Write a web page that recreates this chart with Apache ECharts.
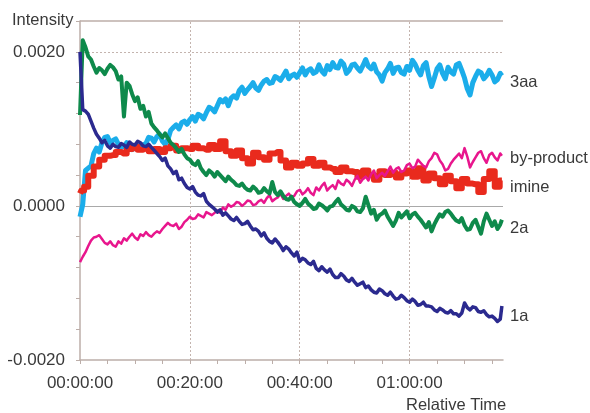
<!DOCTYPE html>
<html>
<head>
<meta charset="utf-8">
<script src="https://cdn.jsdelivr.net/npm/echarts@6/dist/echarts.min.js"></script>
<style>html,body{margin:0;padding:0;background:#fff}#c{width:590px;height:413px}</style>
</head>
<body>
<div id="c"></div>
<script>
// time in minutes (half-minute sampling)
const times = [
  0,0.5, 1,1.5, 2,2.5, 3,3.5, 4,4.5, 5,5.5, 6,6.5, 7,7.5, 8,8.5, 9,9.5,
  10,10.5, 11,11.5, 12,12.5, 13,13.5, 14,14.5, 15,15.5, 16,16.5, 17,17.5, 18,18.5, 19,19.5,
  20,20.5, 21,21.5, 22,22.5, 23,23.5, 24,24.5, 25,25.5, 26,26.5, 27,27.5, 28,28.5, 29,29.5,
  30,30.5, 31,31.5, 32,32.5, 33,33.5, 34,34.5, 35,35.5, 36,36.5, 37,37.5, 38,38.5, 39,39.5,
  40,40.5, 41,41.5, 42,42.5, 43,43.5, 44,44.5, 45,45.5, 46,46.5, 47,47.5, 48,48.5, 49,49.5,
  50,50.5, 51,51.5, 52,52.5, 53,53.5, 54,54.5, 55,55.5, 56,56.5, 57,57.5, 58,58.5, 59,59.5,
  60,60.5, 61,61.5, 62,62.5, 63,63.5, 64,64.5, 65,65.5, 66,66.5, 67,67.5, 68,68.5, 69,69.5,
  70,70.5, 71,71.5, 72,72.5, 73,73.5, 74,74.5, 75,75.5, 76,76.5, 76.8];

// imine is sampled per minute (step trace)
const timesImine = [0,0.5,1,2,3,4,5,6,7,8,
  9,10,11,12,13,14,15,16,17,18,
  19,20,21,22,23,24,25,26,27,28,
  29,30,31,32,33,34,35,36,37,38,
  39,40,41,42,43,44,45,46,47,48,
  49,50,51,52,53,54,55,56,57,58,
  59,60,61,62,63,64,65,66,67,68,
  69,70,71,72,73,74,75,76,76.8];

// intensities in units of 1e-4
const s3aa = [
  -1.4,0.2, 4.6,4.9, 5.2,6.8, 7.5,7.0, 8.2,8.9, 9.0,8.2, 8.5,8.7, 8.0,7.6, 7.7,8.2, 7.9,7.3,
  7.5,7.8, 7.4,7.9, 8.1,8.9, 8.8,8.3, 9.0,9.3, 8.4,8.0, 8.6,9.8, 10.2,10.5, 10.0,10.8, 11.0,10.6,
  11.2,11.6, 11.0,11.9, 11.7,11.3, 12.1,12.8, 12.6,12.2, 13.0,13.8, 13.5,13.9, 13.0,14.0, 14.3,14.0, 15.0,15.4,
  14.6,15.1, 15.5,16.0, 15.3,15.0, 15.7,16.2, 16.4,15.9, 16.0,16.8, 16.6,16.3, 16.9,17.5, 16.5,16.9, 17.1,16.7,
  17.3,17.9, 17.0,17.6, 17.8,17.2, 17.4,18.3, 17.5,17.1, 18.2,17.7, 18.6,18.0, 17.9,18.8, 18.4,17.2, 17.6,18.3,
  18.4,17.9, 17.5,18.2, 19.0,18.1, 17.8,18.4, 17.4,17.0, 16.2,17.3, 17.8,18.5, 17.2,17.9, 18.0,17.3, 17.1,18.1,
  17.6,18.9, 18.4,17.6, 17.0,18.2, 18.6,16.8, 15.5,16.6, 17.8,18.3, 17.2,16.5, 18.0,17.4, 17.1,18.3, 18.5,17.6,
  16.6,15.2, 14.4,16.0, 16.8,17.5, 17.3,16.5, 16.9,17.6, 17.0,16.1, 16.4,17.2, 16.9];

const sByproduct = [
  -7.3,-6.6, -6.0,-5.2, -4.5,-4.1, -4.0,-3.8, -4.3,-4.8, -5.0,-4.6, -5.1,-5.3, -4.6,-4.9, -4.2,-4.5, -4.0,-3.6,
  -4.1,-4.4, -3.7,-3.9, -3.4,-3.8, -4.0,-3.6, -3.3,-3.5, -3.0,-2.6, -2.2,-2.5, -2.6,-2.3, -3.0,-2.7, -2.1,-1.8,
  -1.4,-1.7, -1.6,-1.1, -1.3,-1.5, -0.8,-1.0, -1.2,-0.9, -0.6,-0.9, -0.2,-0.5, 0.2,-0.1, 0.1,0.5, 0.4,0.0,
  0.3,0.7, 0.6,0.1, 0.2,0.6, 0.8,0.4, 1.0,1.4, 0.6,0.9, 1.1,1.6, 0.9,1.3, 1.6,1.1, 1.3,1.9,
  2.1,1.5, 1.8,2.3, 1.7,1.4, 2.4,2.0, 2.6,3.0, 2.0,2.4, 2.7,2.2, 3.3,2.9, 2.7,3.4, 3.1,2.6,
  3.4,3.9, 3.0,3.5, 3.8,3.3, 4.1,4.6, 3.6,4.0, 4.3,3.9, 4.5,5.1, 4.3,4.8, 5.0,4.4, 4.6,5.3,
  5.5,4.9, 5.1,6.0, 5.6,5.2, 5.0,5.8, 6.2,6.9, 6.7,5.9, 5.4,4.6, 4.8,5.5, 6.0,6.4, 6.8,6.2,
  7.5,6.4, 5.0,5.7, 6.3,6.9, 7.1,6.2, 5.6,6.6, 6.9,6.3, 5.9,6.8, 6.5];

const sImine = [1.6,2.0,2.5,3.9,5.1,6.0,6.5,6.6,7.0,6.8,
  7.4,7.7,7.3,7.5,7.1,7.4,7.0,7.5,7.8,7.2,
  7.5,7.4,7.8,7.5,7.3,7.9,7.4,8.4,7.1,6.5,
  7.2,6.2,5.5,6.9,6.3,6.0,6.8,7.0,5.9,5.0,
  5.6,5.2,5.5,6.1,5.2,5.6,5.0,4.8,4.4,5.0,
  4.5,4.4,3.8,4.6,4.0,3.4,4.5,4.0,4.3,3.7,
  4.2,4.6,3.8,4.9,3.3,4.2,3.6,2.8,3.9,3.2,
  2.3,3.5,2.9,2.8,1.8,3.5,4.5,2.5,3.3];

const s2a = [
  11.8,21.5, 20.6,19.4, 19.0,18.1, 17.3,17.9, 17.6,17.1, 17.8,18.3, 18.0,17.5, 16.4,16.8, 11.6,16.0, 15.6,14.5,
  13.6,14.1, 12.6,13.0, 11.6,12.2, 10.7,10.2, 9.8,9.3, 8.9,9.4, 8.8,8.2, 7.9,7.5, 7.0,7.4, 6.7,6.2,
  6.0,5.5, 5.3,5.8, 4.9,4.4, 4.0,4.6, 4.3,3.8, 4.4,4.0, 3.6,3.2, 3.8,3.4, 3.1,2.7, 2.6,2.9,
  2.4,2.1, 2.0,2.5, 2.2,1.7, 1.8,2.3, 1.9,1.6, 3.1,1.8, 1.4,1.9, 1.3,0.9, 0.8,1.2, 0.5,0.2,
  0.0,0.4, 0.9,0.3, 0.0,-0.4, -0.3,0.3, 0.1,-0.2, -0.6,-0.1, 0.0,0.5, 0.9,0.2, -0.1,-0.5, -0.6,0.0,
  -0.2,-0.7, -0.8,-0.3, 1.2,0.1, -1.0,-0.5, -1.8,-1.2, -1.0,-0.6, -1.4,-2.0, -2.6,-1.9, -0.9,-1.5, -1.1,-0.7,
  -1.6,-1.1, -0.9,-1.4, -1.8,-2.3, -2.8,-2.1, -3.3,-2.4, -1.7,-1.1, -1.4,-0.8, -0.6,-1.0, -1.5,-1.9, -2.1,-1.6,
  -2.5,-3.1, -3.0,-2.2, -1.8,-2.7, -3.6,-2.0, -1.0,-1.8, -2.6,-2.0, -3.0,-2.4, -1.8];

const s1a = [
  20.0,12.5, 12.3,11.9, 11.0,10.1, 9.3,8.8, 8.2,8.5, 7.8,7.5, 8.0,7.7, 7.6,8.1, 7.9,7.6, 8.3,8.0,
  7.9,8.4, 8.2,7.8, 7.7,8.0, 7.6,7.2, 6.8,6.4, 5.9,6.2, 5.2,4.8, 4.2,4.5, 3.4,3.6, 2.9,2.4,
  2.2,2.5, 1.8,1.4, 1.3,1.6, 0.6,0.2, -0.1,-0.4, -0.8,-0.5, -1.2,-0.9, -1.3,-1.7, -1.9,-1.5, -2.0,-2.4,
  -2.3,-2.0, -2.6,-3.1, -3.0,-3.3, -3.9,-3.5, -4.2,-4.6, -4.8,-4.3, -4.7,-5.2, -5.8,-5.3, -5.6,-6.1, -6.5,-6.0,
  -7.2,-6.8, -7.0,-7.4, -7.6,-7.2, -8.1,-8.4, -7.9,-8.3, -8.6,-8.2, -8.9,-9.3, -9.3,-8.8, -9.1,-9.6, -9.8,-9.4,
  -9.9,-10.3, -10.1,-9.9, -10.6,-10.4, -10.9,-11.2, -11.3,-10.8, -11.0,-11.4, -11.6,-11.2, -11.7,-12.1, -12.0,-11.6, -11.9,-12.3,
  -12.5,-12.1, -12.4,-12.9, -12.8,-12.5, -13.0,-13.0, -13.1,-13.5, -13.7,-13.3, -13.5,-13.8, -13.9,-13.6, -14.0,-14.0, -14.3,-13.9,
  -12.6,-13.2, -13.5,-13.1, -13.2,-13.7, -13.8,-13.6, -14.1,-14.4, -14.3,-14.6, -15.0,-14.7, -13.0];

const seriesNames = ['3aa','by-product','imine','2a','1a'];
const xLabelValues = [0,20,40,60];
const yLabelValues = [-0.002,0,0.002];

const axisColor = '#bcaea9';
const textColor = '#3a3a3a';
const fontFam = '"Liberation Sans", Arial, sans-serif';

function toPairs(ts, vals){ return ts.map((t,i)=>[t, vals[i]*1e-4]); }
function fmtTime(m){
  const h = Math.floor(m/60), mm = Math.round(m%60);
  const p = n => (n<10?'0':'')+n;
  return p(h)+':'+p(mm)+':00';
}

const chart = echarts.init(document.getElementById('c'), null, {renderer:'canvas'});

const mkLine = (color,width,z,ts,vals,extra) => Object.assign({
  type:'line', data: toPairs(ts, vals), showSymbol:false, symbol:'none',
  lineStyle:{color, width, join:'round'}, itemStyle:{color}, z, animation:false
}, extra||{});

const dotted = {color:'#c4b4ae', type:[2,2], width:1};
const series = [
  {
    type:'line', data:[], silent:true, animation:false,
    markLine:{
      silent:true, symbol:'none', z:1, animation:false, precision:8,
      label:{show:false},
      data:[
        {yAxis:0.002, lineStyle:dotted},
        {yAxis:0, lineStyle:{color:'#a9a9a9', type:'solid', width:1.2}},
        {xAxis:20, lineStyle:dotted},
        {xAxis:40, lineStyle:dotted},
        {xAxis:60, lineStyle:dotted},
        {yAxis:0.0024, lineStyle:{color:axisColor, type:'solid', width:1.5}}
      ]
    }
  },
  mkLine('#1badea',5,3,times,s3aa,{name:seriesNames[0]}),
  mkLine('#e92a1d',6,4,timesImine,sImine,{name:seriesNames[2], step:'middle'}),
  mkLine('#e8168d',2.5,5,times,sByproduct,{name:seriesNames[1]}),
  mkLine('#0e8a4b',4,6,times,s2a,{name:seriesNames[3]}),
  mkLine('#2b2a8f',3.5,7,times,s1a,{name:seriesNames[4]})
];

const labelStyle = (txt,x,y,size) => ({
  type:'text', left:x, top:y, silent:true,
  style:{text:txt, fill:textColor, font:'normal '+size+'px '+fontFam}
});

chart.setOption({
  animation:false,
  backgroundColor:'#ffffff',
  grid:{left:80, right:87, top:21, bottom:53, containLabel:false},
  xAxis:{
    type:'value', min:0, max:77, interval:5,
    axisLine:{show:true, onZero:false, lineStyle:{color:axisColor, width:1.5}},
    axisTick:{show:true, length:4, lineStyle:{color:axisColor}, customValues:[0,5,10,15,20,25,30,35,40,45,50,55,60,65,70,75]},
    axisLabel:{
      color:textColor, fontSize:17, fontFamily:fontFam, margin:15,
      customValues:xLabelValues,
      formatter: v => (xLabelValues.indexOf(v) >= 0 ? fmtTime(v) : '')
    },
    splitLine:{show:false}
  },
  yAxis:{
    type:'value', min:-0.002, max:0.0024, interval:0.0004,
    axisLine:{show:true, onZero:false, lineStyle:{color:axisColor, width:1.5}},
    axisTick:{show:true, length:4, lineStyle:{color:axisColor}},
    axisLabel:{
      color:textColor, fontSize:17, fontFamily:fontFam, margin:15,
      customValues:yLabelValues,
      formatter: v => (yLabelValues.some(c => Math.abs(c - v) < 1e-9) ? v.toFixed(4) : '')
    },
    splitLine:{show:false}
  },
  series,
  graphic:[
    labelStyle('Intensity',12,12,16.5),
    labelStyle('Relative Time',406,397,16.5),
    labelStyle(seriesNames[0],510,74,16.5),
    labelStyle(seriesNames[1],510,150,16.5),
    labelStyle(seriesNames[2],510,179,16.5),
    labelStyle(seriesNames[3],510,220,16.5),
    labelStyle(seriesNames[4],510,308,16.5)
  ]
});
</script>
</body>
</html>
